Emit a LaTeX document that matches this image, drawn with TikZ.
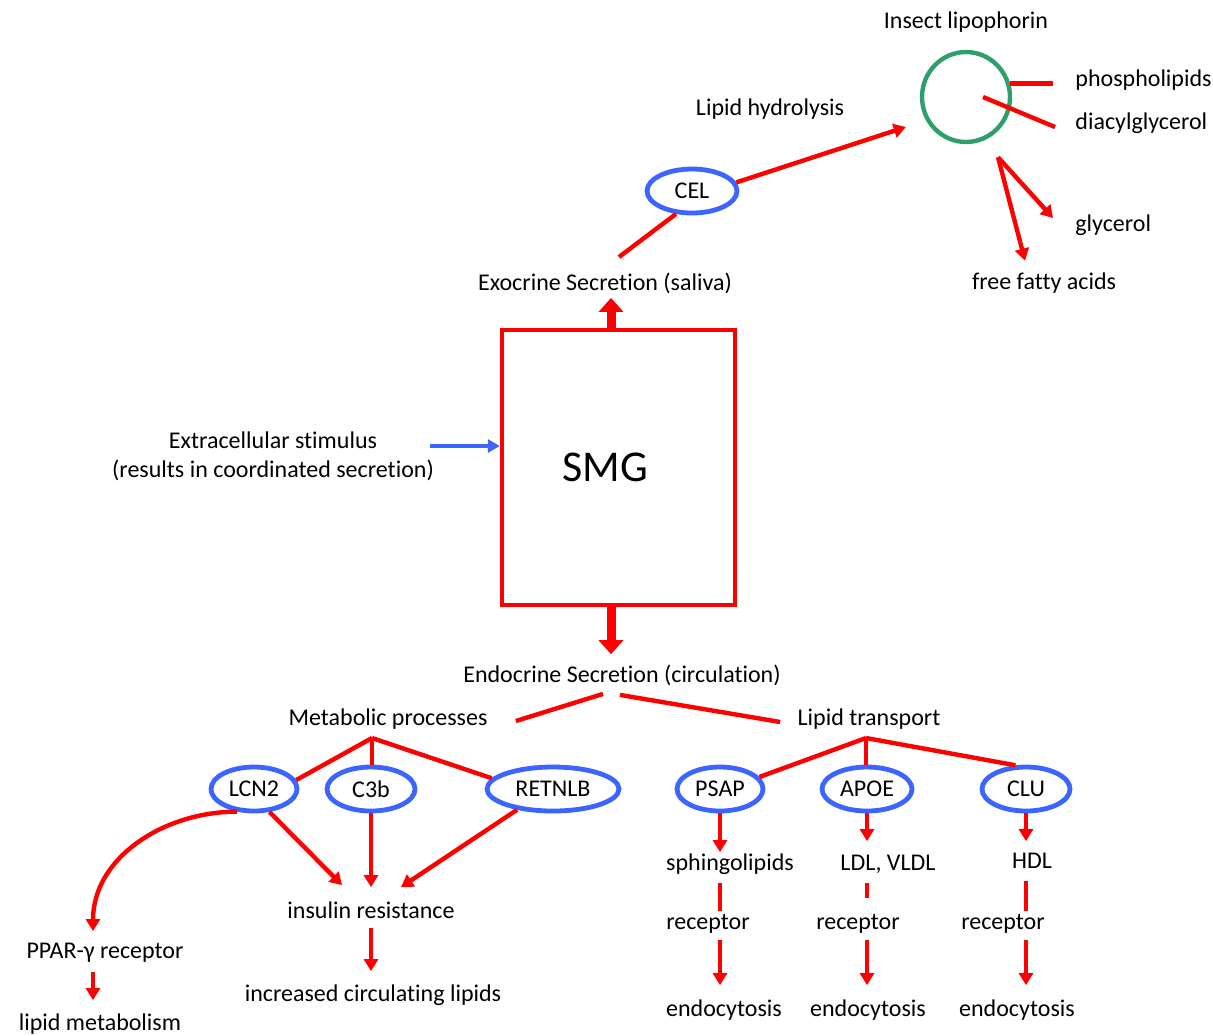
\documentclass[tikz,border=0pt]{standalone}
\usepackage{fontspec}
\setmainfont{Carlito}[Ligatures=NoCommon]
\usetikzlibrary{arrows.meta, shapes.geometric, positioning}
\definecolor{smgred}{RGB}{255,0,0}
\definecolor{protblue}{RGB}{60,100,255}
\definecolor{lipgreen}{RGB}{46,158,107}

\begin{document}
\begin{tikzpicture}[x=0.5pt, y=-0.5pt, font=\fontsize{12}{14.5}\selectfont,
	lbl/.style={inner sep=1pt, text height=8pt, text depth=2.5pt, yshift=-1.5pt},
	prot/.style={ellipse, draw=protblue, line width=2.4pt, inner sep=0pt, minimum height=22pt},
	link/.style={draw=smgred, line width=2.2pt},
	arr/.style={link, -{Triangle[length=6pt,width=7pt]}},
	bigarr/.style={draw=smgred, line width=4.5pt, -{Triangle[length=7pt,width=12pt]}}]
	\useasboundingbox (0,0) rectangle (1213,1035);

	% top: saliva and lipophorin
	\node[lbl] (lipo) at (966,20) {Insect lipophorin};
	\node[ellipse, draw=lipgreen, line width=2.2pt, minimum width=44pt, minimum height=45pt] (lipid) at (966,97) {};
	\node[lbl, anchor=west] (phos) at (1073,78) {phospholipids};
	\node[lbl, anchor=west] (dag) at (1073,121) {diacylglycerol};
	\node[lbl, anchor=west] (glyc) at (1073,223) {glycerol};
	\node[lbl] (ffa) at (1044,281) {free fatty acids};
	\node[lbl] (hydro) at (770,107) {Lipid hydrolysis};
	\node[prot, minimum width=45pt] (cel) at (692,191) {CEL};
	\node[lbl] (exo) at (605,282) {Exocrine Secretion (saliva)};
	\coordinate (salivatop) at (619,257);
	\coordinate (hydsplit) at ([shift={(16pt,-6.5pt)}]lipid.south);

	\draw[link] (lipid.17) -- ++(21.5pt,0);
	\draw[link] ([xshift=8.5pt]lipid.center) -- ([shift={(-9pt,-1.5pt)}]dag.west);
	\draw[arr] (hydsplit) -- ([shift={(-10pt,4pt)}]glyc.west);
	\draw[arr] (hydsplit) -- ([shift={(-9.5pt,5.25pt)}]ffa.north);
	\draw[arr] (cel.11) -- ([shift={(-7pt,-15pt)}]lipid.west);
	\draw[link] (salivatop) -- (cel.235);

	% gland
	\node[draw=smgred, line width=2.2pt, minimum width=116.5pt, minimum height=137.5pt] (smg) at (618.5,467.5) {};
	\node[font=\fontsize{22}{26}\selectfont] (smglbl) at (605,467) {SMG};
	\node[inner sep=1pt, align=center] (stim) at (273,456) {Extracellular stimulus\\(results in coordinated secretion)};
	\coordinate (stimtail) at (430,446);
	\draw[protblue, line width=1.8pt, -{Triangle[length=6pt,width=6.5pt]}] (stimtail) -- (stimtail -| smg.west);
	\draw[bigarr] ([xshift=-3.75pt]smg.north) -- ([xshift=-3.75pt]smg.north |- exo.south);
	\draw[bigarr] ([xshift=-3.75pt]smg.south) -- ++(0,47);

	% circulation
	\node[lbl] (endo) at (622,674) {Endocrine Secretion (circulation)};
	\node[lbl] (met) at (388,717) {Metabolic processes};
	\node[lbl] (lt) at (869,717) {Lipid transport};
	\draw[link] ([shift={(-9.5pt,-2pt)}]endo.south) -- ([shift={(13pt,-0.5pt)}]met.east);
	\draw[link] ([shift={(-1pt,-2.5pt)}]endo.south) -- ([shift={(-7.5pt,-1pt)}]lt.west);

	\node[prot, minimum width=43pt] (lcn2) at (254,789) {LCN2};
	\node[prot, minimum width=44pt] (c3b) at (371,789) {C3b};
	\node[prot, minimum width=66pt] (retnlb) at (553,789) {RETNLB};
	\node[prot, minimum width=43pt] (psap) at (720,789) {PSAP};
	\node[prot, minimum width=45pt] (apoe) at (867,789) {APOE};
	\node[prot, minimum width=44pt] (clu) at (1026,789) {CLU};
	\coordinate (metj) at (372,738);
	\coordinate (lipj) at (866,738);
	\draw[link] (metj) -- (lcn2.12);
	\draw[link] (metj) -- (metj |- c3b.north);
	\draw[link] (metj) -- (retnlb.170);
	\draw[link] (lipj) -- (psap.17);
	\draw[link] (lipj) -- (lipj |- apoe.north);
	\draw[link] (lipj) -- (clu.114);

	% metabolic branch
	\node[lbl] (ins) at (371,910) {insulin resistance};
	\node[lbl] (circ) at (373,993) {increased circulating lipids};
	\node[lbl] (ppar) at (105,950) {PPAR-γ receptor};
	\node[lbl] (lipm) at (100,1022) {lipid metabolism};
	\draw[arr] (lcn2.233) to[out=180, in=90] ([shift={(-6pt,4.5pt)}]ppar.north);
	\draw[arr] (lcn2.304) -- ([shift={(-14.5pt,7.5pt)}]ins.north);
	\draw[arr, shorten >=6.5pt] (c3b.south) -- (c3b.south |- ins.north);
	\draw[arr] (retnlb.210) -- ([shift={(15pt,6.5pt)}]ins.north);
	\draw[arr, shorten <=1pt, shorten >=6pt] (ins.south) -- (ins.south |- circ.north);
	\draw[arr, shorten <=3pt, shorten >=6pt] ([xshift=-6pt]ppar.south) -- ([xshift=-6pt]ppar.south |- lipm.north);

	% lipid transport branch
	\node[lbl] (sph) at (730,862) {sphingolipids};
	\node[lbl] (ldl) at (888,862) {LDL, VLDL};
	\node[lbl] (hdl) at (1032,860) {HDL};
	\node[lbl] (rec1) at (708,921) {receptor};
	\node[lbl] (rec2) at (858,921) {receptor};
	\node[lbl] (rec3) at (1003,921) {receptor};
	\node[lbl] (endo1) at (724,1008) {endocytosis};
	\node[lbl] (endo2) at (868,1008) {endocytosis};
	\node[lbl] (endo3) at (1017,1008) {endocytosis};
	\draw[arr] (psap.south) -- (psap.south |- sph.north);
	\draw[arr, shorten >=5.5pt] (apoe.south) -- (apoe.south |- ldl.north);
	\draw[arr, shorten >=4.5pt] (clu.south) -- (clu.south |- hdl.north);
	\draw[link, shorten <=2.5pt] (psap.south |- sph.south) -- (psap.south |- rec1.north);
	\draw[link, shorten <=2.5pt, shorten >=6.5pt] (apoe.south |- ldl.south) -- (apoe.south |- rec2.north);
	\draw[link, shorten <=2.5pt] (clu.south |- hdl.south) -- (clu.south |- rec3.north);
	\draw[arr, shorten <=1.5pt, shorten >=6.5pt] (psap.south |- rec1.south) -- (psap.south |- endo1.north);
	\draw[arr, shorten <=1.5pt, shorten >=6.5pt] (apoe.south |- rec2.south) -- (apoe.south |- endo2.north);
	\draw[arr, shorten <=1.5pt, shorten >=6.5pt] (clu.south |- rec3.south) -- (clu.south |- endo3.north);
\end{tikzpicture}
\end{document}
